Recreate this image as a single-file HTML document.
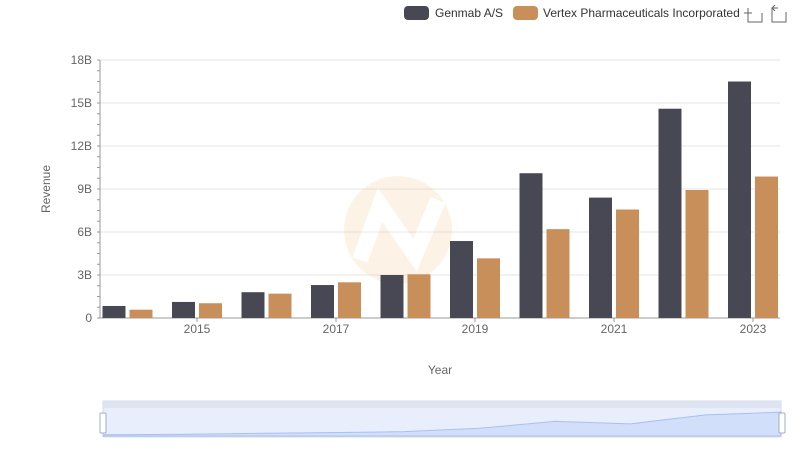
<!DOCTYPE html>
<html><head><meta charset="utf-8"><style>
body{margin:0;background:#fff;font-family:"Liberation Sans",sans-serif}
svg text{font-family:"Liberation Sans",sans-serif}
</style></head><body>
<svg id="c" width="800" height="461" xmlns="http://www.w3.org/2000/svg"></svg>
<script>
const years=[2014,2015,2016,2017,2018,2019,2020,2021,2022,2023];
const genmab=[0.84,1.12,1.8,2.3,3.0,5.37,10.1,8.4,14.6,16.5];
const vertex=[0.58,1.03,1.7,2.49,3.05,4.16,6.2,7.57,8.93,9.87];
const yTicks=[0,3,6,9,12,15,18];
const yTickLabels=["0","3B","6B","9B","12B","15B","18B"];
const xLabelYears=[2015,2017,2019,2021,2023];
const overview=genmab;

const NS="http://www.w3.org/2000/svg";
const svg=document.getElementById('c');
function el(t,a,p){const e=document.createElementNS(NS,t);for(const k in a)e.setAttribute(k,a[k]);(p||svg).appendChild(e);return e;}
const y0=318,y1=60,yMax=18;
const yS=v=>y0-(v/yMax)*(y0-y1);
const xC=i=>127.5+i*69.5;
const bw=23;

// grid
yTicks.forEach((t,i)=>{
  if(t>0){const g=el('line',{x1:100,x2:780,y1:yS(t),y2:yS(t),stroke:'#e6e6e6','stroke-width':1});
  }
  const tx=el('text',{x:92,y:yS(t)+4,'text-anchor':'end','font-size':12,fill:'#666'});
  tx.textContent=yTickLabels[i];
  
});
// minor ticks
for(let v=0;v<=18;v+=0.75){el('line',{x1:97,x2:100,y1:yS(v),y2:yS(v),stroke:'#999','stroke-width':1});}
const ax=el('line',{x1:100,x2:100,y1:y1,y2:y0,stroke:'#999'});

const xa=el('line',{x1:100,x2:780,y1:y0,y2:y0,stroke:'#999'});


// watermark
const wm=el('g',{opacity:0.12});

el('circle',{cx:398,cy:230,r:54,fill:'#e8a33a'},wm);
el('path',{d:'M360 260 L380 205 L415 255 L438 200',stroke:'#fff','stroke-width':16,fill:'none'},wm);

// bars
years.forEach((yr,i)=>{
  const g=el('rect',{x:xC(i)-bw-2,y:yS(genmab[i]),width:bw,height:y0-yS(genmab[i]),fill:'#484854'});
  
  const v=el('rect',{x:xC(i)+2,y:yS(vertex[i]),width:bw,height:y0-yS(vertex[i]),fill:'#c98f5a'});
  
});
xLabelYears.forEach(yr=>{
  const i=years.indexOf(yr);
  el('line',{x1:xC(i),x2:xC(i),y1:y0,y2:y0+4,stroke:'#999'});
  const t=el('text',{x:xC(i),y:333,'text-anchor':'middle','font-size':12,fill:'#666'});
  t.textContent=yr;
});
const yt=el('text',{x:50,y:189,'text-anchor':'middle','font-size':12,fill:'#666',transform:'rotate(-90 50 189)'});
yt.textContent='Revenue';
const xt=el('text',{x:440,y:374,'text-anchor':'middle','font-size':12,fill:'#666'});
xt.textContent='Year';

// legend
const lg1=el('g',{});
el('rect',{x:404,y:6,width:25,height:14,rx:4,fill:'#484854'},lg1);
const l1=el('text',{x:435,y:17,'font-size':12,fill:'#333'},lg1);l1.textContent='Genmab A/S';
const lg2=el('g',{});
el('rect',{x:513,y:6,width:25,height:14,rx:4,fill:'#c98f5a'},lg2);
const l2=el('text',{x:543,y:17,'font-size':12,fill:'#333'},lg2);l2.textContent='Vertex Pharmaceuticals Incorporated';
const zi=el('path',{d:'M748 8v14h14v-9M744 13h8M748 9v0',stroke:'#666',fill:'none','stroke-width':1});

const ri=el('path',{d:'M778 8h-6v14h14v-10M772 8l3-3M772 8l3 3',stroke:'#666',fill:'none','stroke-width':1});


// data zoom slider
const dz=el('g',{});
el('rect',{x:103,y:401,width:678,height:36,fill:'#e8eefc',stroke:'#d5dbe8'},dz);
el('rect',{x:103,y:401,width:678,height:7,fill:'#dde3f0'},dz);
const oMax=18;const ox=i=>103+i*(678/(overview.length-1));const oy=v=>436-(v/oMax)*26;
let d='M103 436';overview.forEach((v,i)=>{d+=' L'+ox(i)+' '+oy(v);});d+=' L781 436 Z';
el('path',{d:d,fill:'#d2dffa',stroke:'#a9c0ef','stroke-width':1},dz);
el('rect',{x:100,y:413,width:6,height:20,rx:1,fill:'#fff',stroke:'#a0acc4'},dz);
el('rect',{x:779,y:413,width:6,height:20,rx:1,fill:'#fff',stroke:'#a0acc4'},dz);
</script>
</body></html>
